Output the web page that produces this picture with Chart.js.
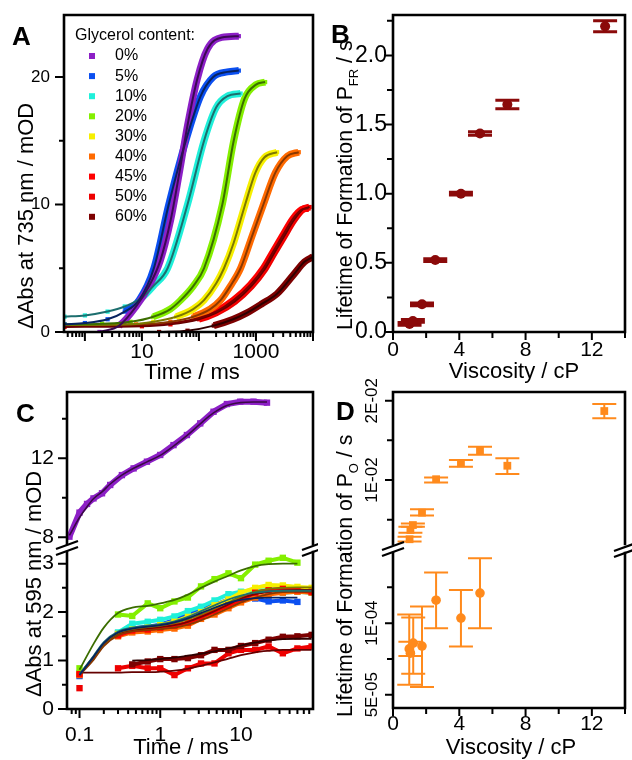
<!DOCTYPE html>
<html>
<head>
<meta charset="utf-8">
<script src="https://cdn.jsdelivr.net/npm/chart.js@4.4.1/dist/chart.umd.min.js"></script>
<style>
  html, body { margin: 0; background: #fff; }
  #fig { position: relative; width: 632px; height: 760px; overflow: hidden; background: #fff; }
  #fig canvas { position: absolute; }
</style>
</head>
<body>
<div id="fig">
  <canvas id="chartA"></canvas>
  <canvas id="chartB"></canvas>
  <canvas id="chartCtop"></canvas>
  <canvas id="chartCbot"></canvas>
  <canvas id="chartDtop"></canvas>
  <canvas id="chartDbot"></canvas>
</div>
<script>
const FONT = "'Liberation Sans', Arial, sans-serif";

// ---- shared series info ----
const glycerol = ["0%", "5%", "10%", "20%", "30%", "40%", "45%", "50%", "60%"];
const dataColors = ["#8c1fc6", "#0b4ff0", "#1ff0da", "#84ef00", "#f6ef00", "#ff6a00", "#ff0000", "#ee0000", "#7d0000"];
const fitColors = ["#3a0a52", "#08225e", "#1c6e6e", "#3b6d00", "#7c7800", "#8a3800", "#7a0000", "#650000", "#2e0000"];

// ---- panel A: 735 nm, time in ms ----
const aTimes = [
  [1.8, 4.0, 7.9, 12.6, 21, 32, 45, 63, 93, 141, 251, 500],
  [0.44, 1.0, 2.5, 5.0, 8.9, 16.2, 29.5, 58.9, 107, 178, 316, 500],
  [0.44, 1.0, 2.5, 5.0, 10, 15.8, 28.2, 63, 123, 200, 316, 537],
  [0.44, 2.0, 6.3, 15.8, 31.6, 47.9, 79.4, 123, 257, 407, 631, 1000, 1445],
  [0.44, 6.3, 15.8, 39.8, 79.4, 123, 200, 275, 407, 646, 977, 1413, 2344],
  [0.44, 7.9, 31.6, 79.4, 158, 240, 355, 537, 851, 1349, 2188, 3548, 5623],
  [0.44, 10, 31.6, 100, 200, 407, 794, 1349, 1995, 2884, 4467, 6310, 8318],
  [0.44, 10, 31.6, 100, 200, 427, 832, 1413, 2089, 3020, 4677, 6607, 8710],
  [20, 63, 182, 398, 692, 1259, 2344, 4571, 7079, 10000]
];
const aValues = [
  [0.0, 0.5, 2.0, 3.4, 5.6, 8.8, 12.4, 16.2, 19.8, 22.2, 23.1, 23.2],
  [0.6, 0.7, 1.0, 1.6, 2.5, 5.0, 10.0, 15.0, 18.5, 20.0, 20.4, 20.5],
  [1.2, 1.3, 1.6, 2.0, 2.7, 3.6, 5.0, 10.0, 15.0, 17.6, 18.5, 18.7],
  [0.6, 0.65, 0.8, 1.2, 1.8, 2.5, 3.6, 5.0, 10.0, 15.0, 18.3, 19.4, 19.6],
  [0.55, 0.6, 0.8, 1.2, 1.8, 2.5, 3.8, 5.0, 7.0, 10.0, 12.5, 13.7, 14.1],
  [0.55, 0.6, 0.8, 1.2, 1.8, 2.5, 3.6, 5.0, 7.5, 10.0, 12.5, 13.8, 14.1],
  [0.5, 0.55, 0.7, 1.1, 1.6, 2.5, 3.7, 5.0, 6.3, 7.5, 8.9, 9.6, 9.7],
  [0.4, 0.45, 0.6, 1.0, 1.5, 2.4, 3.6, 4.9, 6.2, 7.4, 8.8, 9.6, 9.8],
  [0.0, 0.1, 0.5, 1.0, 1.5, 2.2, 3.0, 4.5, 5.5, 5.9]
];
// time from which the measured points are dense enough to form a band
const aBandFrom = [4, 5, 8, 12, 30, 60, 100, 100, 100];
const aXTicks = [10, 1000];
const aXMajor = [1, 10, 100, 1000, 10000];
const aXMinor = [0.5, 0.6, 0.7, 0.8, 0.9, 2, 3, 4, 5, 6, 7, 8, 9, 20, 30, 40, 50, 60, 70, 80, 90,
  200, 300, 400, 500, 600, 700, 800, 900, 2000, 3000, 4000, 5000, 6000, 7000, 8000, 9000];
const aYTicks = [0, 10, 20];
const aYMinor = [5, 15];

// ---- panel B: lifetime of P_FR formation ----
const viscosity = [1.0, 1.2, 1.75, 2.55, 4.1, 5.25, 6.9, 12.8];
const tauFR = [0.058, 0.08, 0.20, 0.52, 1.0, 1.435, 1.645, 2.21];
const tauFRerr = [0.01, 0.01, 0.01, 0.01, 0.01, 0.012, 0.03, 0.04];
const bXTicks = [0, 4, 8, 12];
const bXMinor = [2, 6, 10, 14];
const bYTicks = [0, 0.5, 1.0, 1.5, 2.0];
const bYText = ["0.0", "0.5", "1.0", "1.5", "2.0"];
const bYMinor = [0.25, 0.75, 1.25, 1.75, 2.25];

// ---- panel C: 595 nm, time in ms ----
const cTopTime = [0.075, 0.1, 0.124, 0.149, 0.19, 0.24, 0.335, 0.468, 0.684, 1, 1.46, 2.14, 3.13, 4.57, 6.7, 9.8, 14.3, 21];
const cTopData = [8.03, 9.25, 9.69, 9.97, 10.23, 10.65, 11.15, 11.49, 11.83, 12.17, 12.67, 13.18, 13.77, 14.36, 14.75, 14.87, 14.87, 14.82];
const cTopFit = [8.1, 9.0, 9.55, 9.95, 10.3, 10.7, 11.15, 11.5, 11.82, 12.15, 12.62, 13.15, 13.75, 14.3, 14.68, 14.82, 14.85, 14.85];
const cTime = [0.1, 0.15, 0.2, 0.3, 0.45, 0.7, 1, 1.5, 2.2, 3.2, 4.7, 7, 10, 15, 22, 33, 50, 75];
// index 0 unused (0% is in the upper part)
const cData = [
  null,
  [0.68, null, null, 1.56, 1.66, 1.70, 1.74, 1.84, 1.95, 2.08, 2.15, 2.26, 2.30, 2.28, 2.22, 2.24, 2.21, null],
  [0.74, null, null, 1.58, 1.76, 1.80, 1.84, 1.91, 2.02, 2.11, 2.24, 2.37, 2.42, 2.46, 2.44, 2.40, 2.42, 2.40],
  [0.84, null, null, 1.95, 1.92, 2.18, 2.08, 2.22, 2.30, 2.53, 2.68, 2.80, 2.70, 2.98, 3.06, 3.12, 3.02, null],
  [0.72, null, null, 1.55, 1.64, 1.68, 1.73, 1.80, 1.90, 2.00, 2.14, 2.26, 2.40, 2.50, 2.56, 2.55, 2.52, 2.50],
  [0.70, null, null, 1.50, 1.58, 1.60, 1.63, 1.66, 1.72, 1.86, 1.95, 2.08, 2.20, 2.30, 2.36, 2.40, 2.42, 2.40],
  [0.72, null, null, 1.52, 1.62, 1.64, 1.68, 1.72, 1.78, 1.90, 2.02, 2.14, 2.26, 2.40, 2.45, 2.48, 2.45, 2.42],
  [0.43, null, null, 0.84, 0.89, 0.84, 0.84, 0.70, 0.84, 0.94, 0.94, 1.15, 1.22, 1.22, 1.29, 1.15, 1.25, 1.29],
  [null, null, null, null, 0.92, 0.98, 1.03, 1.03, 1.05, 1.11, 1.22, 1.22, 1.30, 1.36, 1.43, 1.49, 1.50, 1.53]
];
const cFit = [
  null,
  [0.70, 1.08, 1.36, 1.58, 1.66, 1.70, 1.73, 1.79, 1.87, 1.98, 2.09, 2.19, 2.25, 2.29, 2.30, 2.30, 2.30, null],
  [0.72, 1.10, 1.38, 1.60, 1.68, 1.72, 1.75, 1.81, 1.90, 2.02, 2.14, 2.26, 2.34, 2.40, 2.43, 2.44, 2.44, 2.44],
  [0.81, 1.35, 1.68, 1.98, 2.09, 2.13, 2.18, 2.25, 2.36, 2.50, 2.63, 2.75, 2.86, 2.95, 2.99, 3.0, 3.0, null],
  [0.72, 1.08, 1.35, 1.57, 1.65, 1.69, 1.72, 1.77, 1.85, 1.95, 2.07, 2.20, 2.32, 2.42, 2.48, 2.50, 2.51, 2.51],
  [0.70, 1.02, 1.30, 1.52, 1.60, 1.63, 1.65, 1.68, 1.74, 1.83, 1.95, 2.08, 2.20, 2.30, 2.37, 2.41, 2.42, 2.42],
  [0.72, 1.05, 1.33, 1.55, 1.63, 1.66, 1.69, 1.73, 1.80, 1.90, 2.02, 2.16, 2.28, 2.37, 2.42, 2.45, 2.46, 2.46],
  [0.75, 0.75, 0.75, 0.75, 0.76, 0.76, 0.77, 0.79, 0.83, 0.89, 0.96, 1.04, 1.11, 1.17, 1.20, 1.22, 1.22, 1.22],
  [null, null, null, null, 1.00, 1.01, 1.03, 1.06, 1.10, 1.14, 1.19, 1.25, 1.31, 1.37, 1.41, 1.44, 1.45, 1.45]
];
const cXTicks = [0.1, 1, 10];
const cXText = ["0.1", "1", "10"];
const cXMinor = [0.08, 0.09, 0.2, 0.3, 0.4, 0.5, 0.6, 0.7, 0.8, 0.9, 2, 3, 4, 5, 6, 7, 8, 9, 20, 30, 40, 50, 60, 70];
const cTopTicks = [8, 12];
const cTopMinor = [10, 14];
const cBotTicks = [0, 1, 2, 3];
const cBotMinor = [0.5, 1.5, 2.5];

// ---- panel D: lifetime of P_O formation ----
const viscO = [1.0, 1.05, 1.2, 1.75, 2.6, 4.1, 5.25, 6.9, 12.75];
const tauO = [0.00253, 0.0037, 0.00432, 0.00588, 0.0101, 0.0121, 0.0137, 0.0118, 0.0187];
const tauOlo = [0.00224, 0.00336, 0.0041, 0.00554, 0.0097, 0.01168, 0.0132, 0.01076, 0.0178];
const tauOhi = [0.00286, 0.00412, 0.0045, 0.0063, 0.01033, 0.01252, 0.0142, 0.01274, 0.0196];
const viscO2 = [0.98, 1.05, 1.22, 1.75, 2.6, 4.1, 5.25];
const tauO2 = [8.2e-5, 7.9e-5, 8.6e-5, 8.4e-5, 1.16e-4, 1.035e-4, 1.21e-4];
const tauO2lo = [5.7e-5, 7.7e-5, 6.47e-5, 5.54e-5, 9.65e-5, 8.37e-5, 9.65e-5];
const tauO2hi = [1.06e-4, 8.7e-5, 1.04e-4, 1.116e-4, 1.353e-4, 1.232e-4, 1.453e-4];
const dTopTicks = [0.02, 0.01];
const dTopText = ["2E-02", "1E-02"];
const dTopMinor = [0.015, 0.005];
const dBotTicks = [1e-4, 5e-5];
const dBotText = ["1E-04", "5E-05"];
const dBotMinor = [1.25e-4, 7.5e-5];
const orange = "#ff8a1c";
const darkRed = "#8b0a0a";

function pts(xs, ys) {
  return xs.map((x, i) => ({ x: x, y: ys[i] }));
}

// frame, tick marks, titles, letters, error bars, axis breaks
function decor(box, cfg) {
  const X = (v) => v - box.x;
  const Y = (v) => v - box.y;
  return {
    id: "decor",
    beforeDatasetsDraw(chart) {
      const e = cfg.errors;
      if (!e) return;
      const ctx = chart.ctx, sx = chart.scales.x, sy = chart.scales.y;
      ctx.save();
      ctx.strokeStyle = e.color;
      ctx.lineWidth = e.width;
      e.x.forEach((xv, i) => {
        const px = sx.getPixelForValue(xv);
        const p1 = sy.getPixelForValue(e.lo[i]);
        const p2 = sy.getPixelForValue(e.hi[i]);
        ctx.beginPath();
        ctx.moveTo(px, p1); ctx.lineTo(px, p2);
        ctx.moveTo(px - e.cap, p1); ctx.lineTo(px + e.cap, p1);
        ctx.moveTo(px - e.cap, p2); ctx.lineTo(px + e.cap, p2);
        ctx.stroke();
      });
      ctx.restore();
    },
    afterDraw(chart) {
      const ctx = chart.ctx, a = chart.chartArea;
      const sx = chart.scales.x, sy = chart.scales.y;
      ctx.save();
      ctx.strokeStyle = "#000";
      ctx.fillStyle = "#000";

      ctx.lineWidth = 2.6;
      ctx.lineCap = "square";
      ctx.beginPath();
      if (cfg.sides.includes("l")) { ctx.moveTo(a.left, a.top); ctx.lineTo(a.left, a.bottom); }
      if (cfg.sides.includes("r")) { ctx.moveTo(a.right, a.top); ctx.lineTo(a.right, a.bottom); }
      if (cfg.sides.includes("t")) { ctx.moveTo(a.left, a.top); ctx.lineTo(a.right, a.top); }
      if (cfg.sides.includes("b")) { ctx.moveTo(a.left, a.bottom); ctx.lineTo(a.right, a.bottom); }
      ctx.stroke();

      ctx.lineCap = "butt";
      ctx.lineWidth = 2;
      ctx.beginPath();
      (cfg.xt || []).forEach(([vals, len]) => vals.forEach((v) => {
        const p = sx.getPixelForValue(v);
        if (p < a.left - 1 || p > a.right + 1) return;
        ctx.moveTo(p, a.bottom); ctx.lineTo(p, a.bottom + len);
      }));
      (cfg.yt || []).forEach(([vals, len]) => vals.forEach((v) => {
        const p = sy.getPixelForValue(v);
        if (p < a.top - 1 || p > a.bottom + 1) return;
        ctx.moveTo(a.left, p); ctx.lineTo(a.left - len, p);
      }));
      ctx.stroke();

      if (cfg.ylab) {
        const l = cfg.ylab;
        ctx.font = l.size + "px " + FONT;
        ctx.textAlign = "center";
        ctx.textBaseline = "alphabetic";
        l.values.forEach((v, i) => {
          ctx.save();
          ctx.translate(X(l.x), sy.getPixelForValue(v));
          ctx.rotate(-Math.PI / 2);
          ctx.fillText(l.text[i], 0, 0);
          ctx.restore();
        });
      }

      if (cfg.ytitle) {
        const t = cfg.ytitle;
        ctx.save();
        ctx.translate(X(t.x), Y(t.y));
        ctx.rotate(-Math.PI / 2);
        ctx.textAlign = "left";
        ctx.textBaseline = "alphabetic";
        ctx.font = t.size + "px " + FONT;
        ctx.fillText(t.text, 0, 0);
        if (t.sub) {
          let w = ctx.measureText(t.text).width;
          ctx.font = t.subSize + "px " + FONT;
          ctx.fillText(t.sub, w, t.subDy);
          w += ctx.measureText(t.sub).width;
          ctx.font = t.size + "px " + FONT;
          ctx.fillText(t.rest, w, 0);
        }
        ctx.restore();
      }

      if (cfg.xtitle) {
        ctx.font = "22px " + FONT;
        ctx.textAlign = "center";
        ctx.textBaseline = "middle";
        ctx.fillText(cfg.xtitle.text, X(cfg.xtitle.x), Y(cfg.xtitle.y));
      }

      if (cfg.letter) {
        ctx.font = "bold 26px " + FONT;
        ctx.textAlign = "left";
        ctx.textBaseline = "alphabetic";
        ctx.fillText(cfg.letter.text, X(cfg.letter.x), Y(cfg.letter.y));
      }

      if (cfg.breaks) {
        ctx.lineWidth = 2.2;
        cfg.breaks.forEach((b) => {
          [-3, 3].forEach((off) => {
            ctx.beginPath();
            ctx.moveTo(X(b.x) - 11, Y(b.y) + off + 4);
            ctx.lineTo(X(b.x) + 11, Y(b.y) + off - 4);
            ctx.stroke();
          });
        });
      }

      if (cfg.legend) cfg.legend(ctx, X, Y);
      ctx.restore();
    }
  };
}

function noScalePadding(s) {
  s.paddingTop = 0;
  s.paddingBottom = 0;
  s.paddingLeft = 0;
  s.paddingRight = 0;
}

function makeChart(id, box, area, datasets, xs, ys, cfg) {
  const cv = document.getElementById(id);
  cv.width = box.w;
  cv.height = box.h;
  cv.style.left = box.x + "px";
  cv.style.top = box.y + "px";
  const common = { grid: { display: false, drawTicks: false }, border: { display: false } };
  return new Chart(cv, {
    type: "scatter",
    data: { datasets: datasets },
    options: {
      responsive: false,
      animation: false,
      events: [],
      layout: {
        padding: {
          left: 0,
          top: area.t - box.y,
          right: box.x + box.w - area.r,
          bottom: xs.show ? 0 : box.y + box.h - area.b
        }
      },
      plugins: { legend: { display: false }, tooltip: { enabled: false } },
      scales: {
        x: Object.assign({}, common, {
          type: xs.type,
          min: xs.min,
          max: xs.max,
          display: xs.show,
          ticks: {
            display: xs.show, font: { family: FONT, size: xs.size || 20 }, color: "#000", padding: xs.pad || 0,
            maxRotation: 0, minRotation: 0, autoSkip: false,
            callback: (v, i) => (xs.text ? xs.text[i] : "")
          },
          afterBuildTicks: (s) => { s.ticks = xs.ticks.map((v) => ({ value: v })); },
          afterFit: (s) => { s.height = xs.show ? box.y + box.h - area.b : 0; noScalePadding(s); }
        }),
        y: Object.assign({}, common, {
          type: "linear",
          min: ys.min,
          max: ys.max,
          ticks: {
            display: !!ys.text, font: { family: FONT, size: ys.size || 20 }, color: "#000", padding: ys.pad || 0, autoSkip: false,
            callback: (v, i) => (ys.text ? ys.text[i] : "")
          },
          afterBuildTicks: (s) => { s.ticks = ys.ticks.map((v) => ({ value: v })); },
          afterFit: (s) => { s.width = area.l - box.x; noScalePadding(s); }
        })
      }
    },
    plugins: [decor(box, cfg)]
  });
}

// ================= Panel A =================
const aSets = [];
glycerol.forEach((g, i) => {
  const d = pts(aTimes[i], aValues[i]);
  aSets.push({
    label: g, data: d, showLine: true, borderColor: dataColors[i], backgroundColor: dataColors[i],
    borderWidth: 7, pointStyle: "rect", pointRadius: 3, pointBorderWidth: 0,
    cubicInterpolationMode: "monotone", order: 10 + i,
    segment: { borderColor: (c) => (c.p0.parsed.x < aBandFrom[i] ? "rgba(0,0,0,0)" : undefined) }
  });
  aSets.push({
    label: g + " fit", data: d, showLine: true, borderColor: fitColors[i], borderWidth: 2,
    pointRadius: 0, cubicInterpolationMode: "monotone", order: 1
  });
});

function drawLegend(ctx, X, Y) {
  ctx.font = "16px " + FONT;
  ctx.textAlign = "left";
  ctx.textBaseline = "middle";
  ctx.fillStyle = "#000";
  ctx.fillText("Glycerol content:", X(75), Y(36));
  glycerol.forEach((g, i) => {
    const y = 56 + i * 20.1;
    ctx.fillStyle = dataColors[i];
    ctx.fillRect(X(89), Y(y) - 3, 6, 6);
    ctx.fillStyle = "#000";
    ctx.fillText(g, X(115), Y(y));
  });
}

const boxA = { x: 0, y: 0, w: 318, h: 388 };
makeChart("chartA", boxA, { l: 64, t: 15, r: 313, b: 332 }, aSets,
  { type: "logarithmic", min: 0.43, max: 10000, show: true, ticks: aXTicks, text: ["10", "1000"], pad: 8, size: 21 },
  { min: 0, max: 24.86, ticks: aYTicks, text: ["0", "10", "20"], pad: 14, size: 17 },
  {
    sides: "ltrb",
    xt: [[aXMajor, 9], [aXMinor, 5]],
    yt: [[aYTicks, 9], [aYMinor, 5]],
    ytitle: { text: "\u0394Abs at 735 nm / mOD", x: 33, y: 329, size: 22 },
    xtitle: { text: "Time / ms", x: 192, y: 373 },
    letter: { text: "A", x: 12, y: 45 },
    legend: drawLegend
  });

// ================= Panel B =================
const boxB = { x: 316, y: 0, w: 316, h: 388 };
makeChart("chartB", boxB, { l: 393, t: 15, r: 625, b: 332 },
  [{ data: pts(viscosity, tauFR), pointRadius: 5, pointBackgroundColor: darkRed, pointBorderWidth: 0 }],
  { type: "linear", min: 0, max: 14, show: true, ticks: bXTicks, text: ["0", "4", "8", "12"], pad: 6, size: 21 },
  { min: 0, max: 2.292, ticks: bYTicks, text: bYText, pad: 6, size: 23 },
  {
    sides: "ltrb",
    xt: [[bXTicks, 8], [bXMinor, 6]],
    yt: [[bYTicks, 8], [bYMinor, 6]],
    ytitle: { text: "Lifetime of Formation of P", sub: "FR", rest: " / s", x: 352, y: 330, size: 21.3, subSize: 13, subDy: 6 },
    xtitle: { text: "Viscosity / cP", x: 514, y: 372 },
    letter: { text: "B", x: 331, y: 43 },
    errors: {
      x: viscosity, color: darkRed, width: 3, cap: 12,
      lo: tauFR.map((v, i) => v - tauFRerr[i]),
      hi: tauFR.map((v, i) => v + tauFRerr[i])
    }
  });

// ================= Panel C =================
const boxCt = { x: 0, y: 370, w: 318, h: 200 };
makeChart("chartCtop", boxCt, { l: 67, t: 392, r: 313, b: 544 },
  [
    { data: pts(cTopTime, cTopFit), showLine: true, borderColor: "#3a0a45", borderWidth: 1.6, pointRadius: 0, cubicInterpolationMode: "monotone", order: 1 },
    { data: pts(cTopTime, cTopData), showLine: true, borderColor: dataColors[0], borderWidth: 6, pointStyle: "rect", pointRadius: 4.5, pointBackgroundColor: dataColors[0], pointBorderWidth: 0, order: 2 }
  ],
  { type: "logarithmic", min: 0.07, max: 78, show: false, ticks: cXTicks },
  { min: 7.66, max: 15.36, ticks: cTopTicks, text: ["8", "12"], pad: 13, size: 21 },
  {
    sides: "ltr",
    yt: [[cTopTicks, 9], [cTopMinor, 5]],
    letter: { text: "C", x: 16, y: 422 }
  });

const cSets = [];
for (let i = 1; i < glycerol.length; i++) {
  cSets.push({
    data: pts(cTime, cData[i]), showLine: true, borderColor: dataColors[i], borderWidth: 4,
    pointStyle: "rect", pointRadius: 4.5, pointBackgroundColor: dataColors[i], pointBorderWidth: 0,
    order: 20 - i
  });
  cSets.push({
    data: pts(cTime, cFit[i]), showLine: true, borderColor: fitColors[i], borderWidth: 1.8,
    pointRadius: 0, cubicInterpolationMode: "monotone", order: 1
  });
}
const boxCb = { x: 0, y: 470, w: 318, h: 290 };
makeChart("chartCbot", boxCb, { l: 67, t: 552, r: 313, b: 709 }, cSets,
  { type: "logarithmic", min: 0.07, max: 78, show: true, ticks: cXTicks, text: cXText, pad: 14, size: 21 },
  { min: 0, max: 3.24, ticks: cBotTicks, text: ["0", "1", "2", "3"], pad: 13, size: 21 },
  {
    sides: "lrb",
    xt: [[cXTicks, 9], [cXMinor, 5]],
    yt: [[cBotTicks, 9], [cBotMinor, 5]],
    ytitle: { text: "\u0394Abs at 595 nm / mOD", x: 41, y: 697, size: 22 },
    xtitle: { text: "Time / ms", x: 181, y: 748 },
    breaks: [{ x: 67, y: 548 }, { x: 313, y: 549 }]
  });

// ================= Panel D =================
const boxDt = { x: 316, y: 360, w: 316, h: 190 };
makeChart("chartDtop", boxDt, { l: 393, t: 392, r: 625, b: 544 },
  [{ data: pts(viscO, tauO), pointStyle: "rect", pointRadius: 5.5, pointBackgroundColor: orange, pointBorderWidth: 0 }],
  { type: "linear", min: 0, max: 14, show: false, ticks: bXTicks },
  { min: 0.00193, max: 0.0211, ticks: dTopTicks },
  {
    sides: "ltr",
    yt: [[dTopTicks, 8], [dTopMinor, 6]],
    ylab: { values: dTopTicks, text: dTopText, x: 377, size: 17 },
    letter: { text: "D", x: 336, y: 420 },
    errors: { x: viscO, lo: tauOlo, hi: tauOhi, color: orange, width: 2, cap: 12 }
  });

const boxDb = { x: 316, y: 430, w: 316, h: 330 };
makeChart("chartDbot", boxDb, { l: 393, t: 553, r: 625, b: 708 },
  [{ data: pts(viscO2, tauO2), pointStyle: "circle", pointRadius: 4.8, pointBackgroundColor: orange, pointBorderWidth: 0 }],
  { type: "linear", min: 0, max: 14, show: true, ticks: bXTicks, text: ["0", "4", "8", "12"], pad: 4, size: 21 },
  { min: 4.07e-5, max: 1.49e-4, ticks: dBotTicks },
  {
    sides: "lrb",
    xt: [[bXTicks, 8], [bXMinor, 6]],
    yt: [[dBotTicks, 8], [dBotMinor, 6]],
    ylab: { values: dBotTicks, text: dBotText, x: 377, size: 17 },
    ytitle: { text: "Lifetime of Formation of P", sub: "O", rest: " / s", x: 352, y: 717, size: 21.3, subSize: 13, subDy: 6 },
    xtitle: { text: "Viscosity / cP", x: 511, y: 748 },
    breaks: [{ x: 393, y: 549 }, { x: 625, y: 550 }],
    errors: { x: viscO2, lo: tauO2lo, hi: tauO2hi, color: orange, width: 2, cap: 12 }
  });
</script>
</body>
</html>
